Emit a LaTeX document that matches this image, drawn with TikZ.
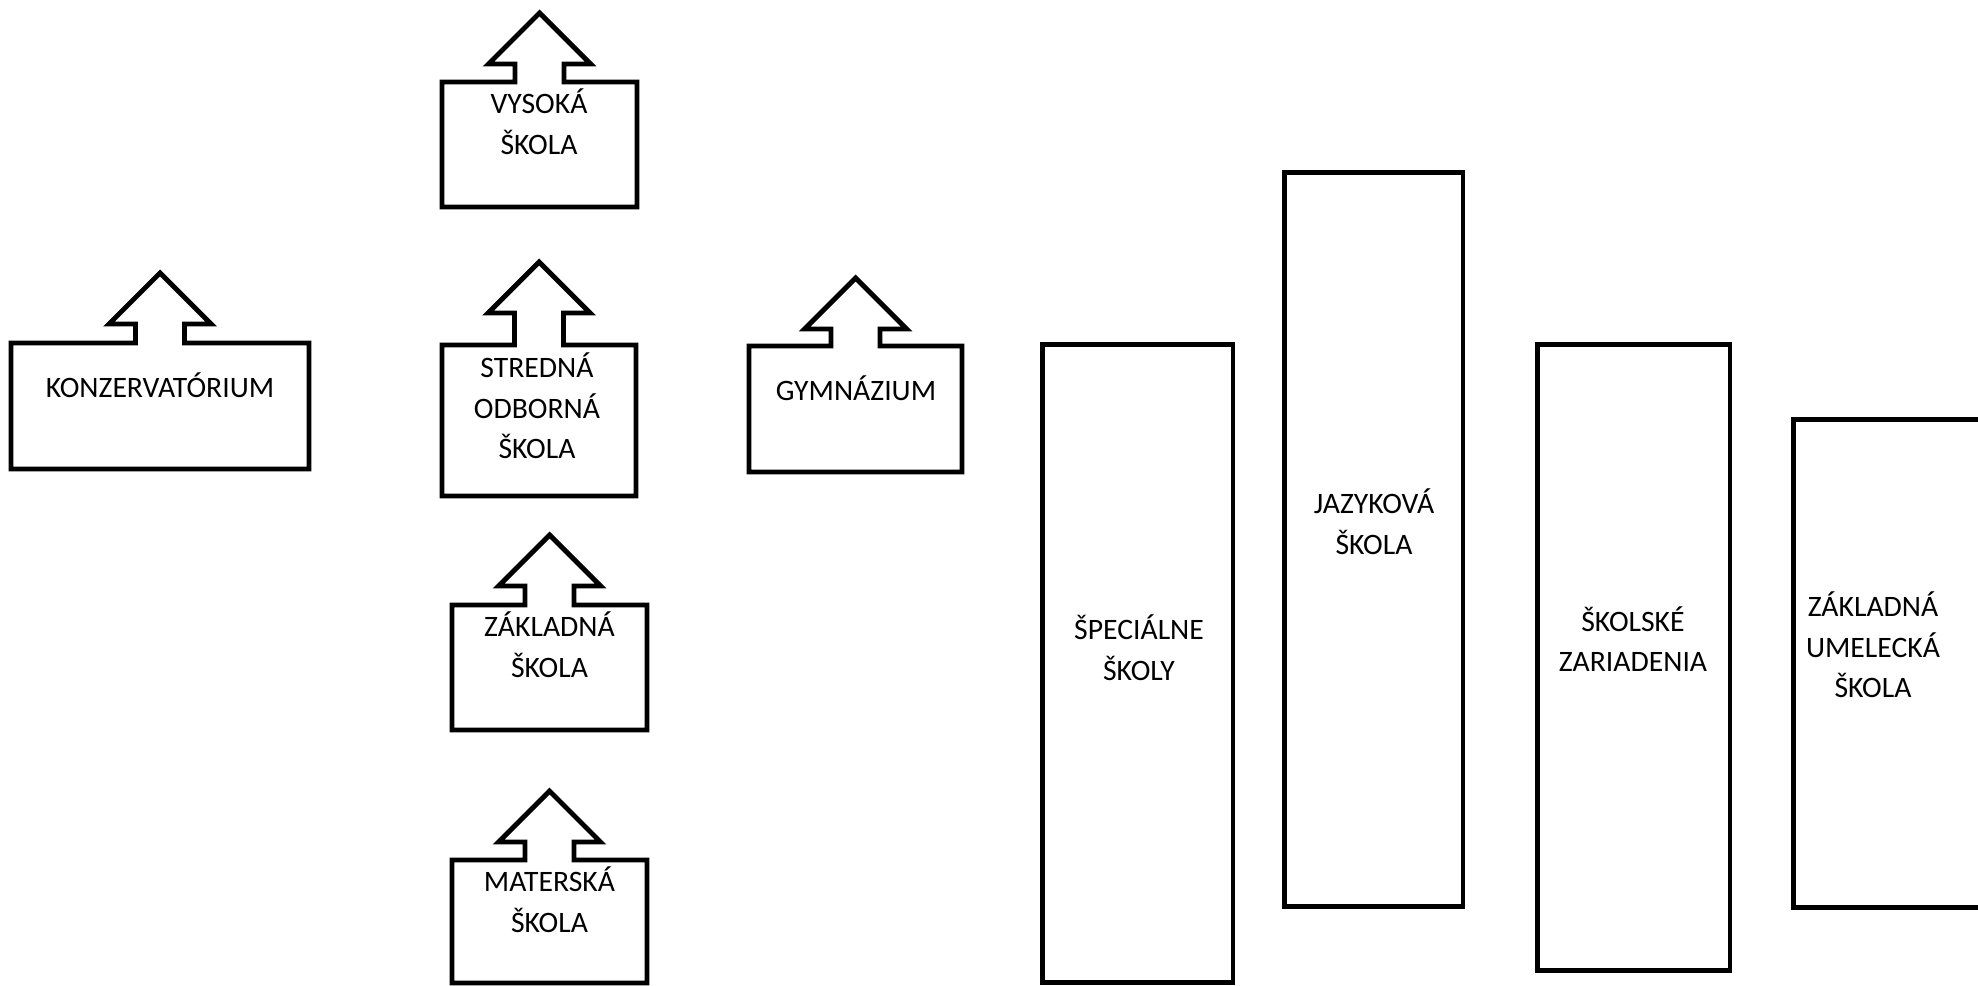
\documentclass[tikz,border=0pt]{standalone}
\usepackage{fontspec}
\setmainfont{Carlito}
\usetikzlibrary{positioning,calc}
\tikzset{
  % Black outline of every box
  outline/.style={
    draw=black,
    line width=1.9pt,
    line join=miter
  },
  % Tall box without arrow
  tallbox/.style={
    rectangle,
    outline,
    inner sep=0pt
  },
  % Text inside a box
  boxtext/.style={
    align=center,
    inner sep=0pt,
    font=\fontsize{11.4}{15.6}\selectfont
  }
}
% Box with an arrow on top: name, left, right, top, bottom, tip
\newcommand{\arrowbox}[6]{%
  \pgfmathsetmacro{\cx}{(#2+#3)/2}
  \pgfmathsetmacro{\hb}{#6+51}
  \draw[outline] (#2,#4) -- (\cx-24.5,#4) -- (\cx-24.5,\hb) -- (\cx-51,\hb)
    -- (\cx,#6) -- (\cx+51,\hb) -- (\cx+24.5,\hb) -- (\cx+24.5,#4)
    -- (#3,#4) -- (#3,#5) -- (#2,#5) -- cycle;
  \coordinate (#1) at (\cx,#4);
}

\begin{document}
\begin{tikzpicture}[x=0.0135cm, y=-0.0135cm]
  \useasboundingbox (0,0) rectangle (1978,986);
  \clip (0,0) rectangle (1978,986);

  % boxes with arrows
  \arrowbox{vs}{442}{637}{82}{207}{13}
  \arrowbox{kz}{11}{309}{343}{469}{273}
  \arrowbox{so}{442}{636}{345}{496}{262}
  \arrowbox{gy}{749}{962}{346}{472}{278}
  \arrowbox{zs}{452}{647}{605}{730}{535}
  \arrowbox{ms}{452}{647}{860}{983}{791}

  \node[boxtext] (vsT) at (539, 122)  {VYSOKÁ\\ŠKOLA};
  \node[boxtext] (kzT) at (160, 385)  {KONZERVATÓRIUM};
  \node[boxtext] (soT) at (537, 406)  {STREDNÁ\\ODBORNÁ\\ŠKOLA};
  \node[boxtext] (gyT) at (856, 388)  {GYMNÁZIUM};
  \node[boxtext] (zsT) at (549.5, 645) {ZÁKLADNÁ\\ŠKOLA};
  \node[boxtext] (msT) at (549.5, 900) {MATERSKÁ\\ŠKOLA};

  % tall boxes
  \node[tallbox, minimum width=2.5785cm, minimum height=8.6265cm] (sp) at (1137.5, 663.5) {};
  \node[tallbox, minimum width=2.4165cm, minimum height=9.9225cm] (jz) at (1373.5, 539.5) {};
  \node[tallbox, minimum width=2.6055cm, minimum height=8.4645cm] (sz) at (1633.5, 657.5) {};
  \node[tallbox, minimum width=2.862cm, minimum height=6.6015cm] (zu) at (1899, 663.5) {};

  \node[boxtext] (spT) at (1139, 648) {ŠPECIÁLNE\\ŠKOLY};
  \node[boxtext] (jzT) at (1374, 522) {JAZYKOVÁ\\ŠKOLA};
  \node[boxtext] (szT) at (1633, 639) {ŠKOLSKÉ\\ZARIADENIA};
  \node[boxtext] (zuT) at (1873, 645) {ZÁKLADNÁ\\UMELECKÁ\\ŠKOLA};
\end{tikzpicture}
\end{document}
